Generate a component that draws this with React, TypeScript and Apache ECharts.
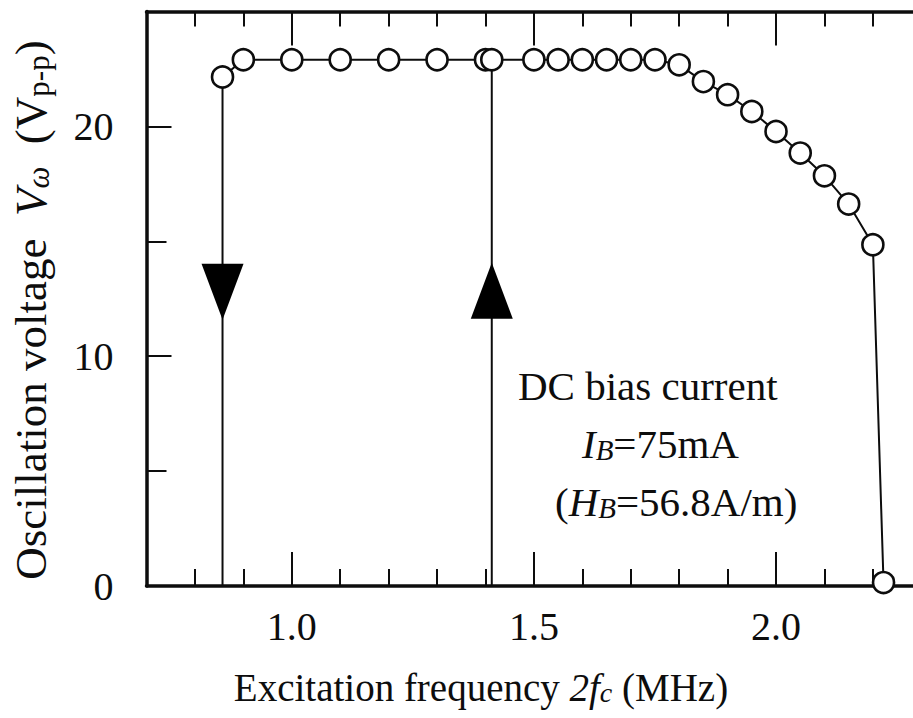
import React, { useEffect, useRef } from "react";
import * as echarts from "echarts";

// ---- data ----
const freqMHz = [0.857, 0.9, 1.0, 1.1, 1.2, 1.3, 1.4, 1.413, 1.5, 1.55, 1.6, 1.65, 1.7, 1.75, 1.8, 1.85, 1.9, 1.95, 2.0, 2.05, 2.1, 2.15, 2.2, 2.222];
const voltVpp = [22.15, 22.9, 22.9, 22.9, 22.9, 22.9, 22.9, 22.9, 22.9, 22.9, 22.9, 22.9, 22.9, 22.9, 22.68, 21.95, 21.38, 20.65, 19.78, 18.84, 17.85, 16.62, 14.85, 0.15];
const sweepDownX = [0.857, 0.857];
const sweepDownY = [22.15, 0];
const sweepUpX = [1.413, 1.413];
const sweepUpY = [0, 22.9];
const arrowX = [0.857, 1.413];
const arrowY = [12.8, 12.85];
const arrowRotate = [180, 0];
const xLabelValues = [1.0, 1.5, 2.0];
const xMinorTicks = [0.8, 0.9, 1.1, 1.2, 1.3, 1.4, 1.6, 1.7, 1.8, 1.9, 2.1, 2.2];
const yLabelValues = [0, 10, 20];
const yMajorTicks = [10, 20];
const yMinorTicks = [5, 15];

const FONT = "'Liberation Serif', 'Times New Roman', 'DejaVu Serif', serif";
const INK = "#0d0d0d";

export default function App() {
  const ref = useRef<HTMLDivElement>(null);

  useEffect(() => {
    if (!ref.current) return;
    const chart = echarts.init(ref.current, undefined, { renderer: "svg" });

    const xBase = { type: "value", min: 0.7, max: 2.3, gridIndex: 0, splitLine: { show: false } };
    const yBase = { type: "value", min: 0, max: 25, gridIndex: 0, splitLine: { show: false } };
    const lineAx = { show: true, lineStyle: { color: INK, width: 3.5 } };
    const noLine = { show: false };

    const option: any = {
      animation: false,
      backgroundColor: "#ffffff",
      grid: { left: 146.5, top: 11.5, right: 18.7, bottom: 132, containLabel: false },
      xAxis: [
        {
          ...xBase,
          position: "bottom",
          axisLine: lineAx,
          axisTick: { show: true, inside: true, length: 34, customValues: xLabelValues, lineStyle: { color: INK, width: 2 } },
          axisLabel: {
            show: true,
            customValues: xLabelValues,
            formatter: (v: number) => v.toFixed(1),
            fontFamily: FONT,
            fontSize: 40,
            color: INK,
            margin: 20,
          },
        },
        {
          ...xBase,
          position: "bottom",
          axisLine: noLine,
          axisTick: { show: true, inside: true, length: 17, customValues: xMinorTicks, lineStyle: { color: INK, width: 2 } },
          axisLabel: { show: false },
        },
        {
          ...xBase,
          position: "top",
          axisLine: lineAx,
          axisTick: { show: true, inside: true, length: 34, customValues: xLabelValues, lineStyle: { color: INK, width: 2 } },
          axisLabel: { show: false },
        },
        {
          ...xBase,
          position: "top",
          axisLine: noLine,
          axisTick: { show: true, inside: true, length: 15, customValues: xMinorTicks, lineStyle: { color: INK, width: 2 } },
          axisLabel: { show: false },
        },
      ],
      yAxis: [
        {
          ...yBase,
          position: "left",
          axisLine: lineAx,
          axisTick: { show: true, inside: true, length: 25, customValues: yMajorTicks, lineStyle: { color: INK, width: 2 } },
          axisLabel: {
            show: true,
            customValues: yLabelValues,
            fontFamily: FONT,
            fontSize: 40,
            color: INK,
            margin: 33,
          },
        },
        {
          ...yBase,
          position: "left",
          axisLine: noLine,
          axisTick: { show: true, inside: true, length: 20, customValues: yMinorTicks, lineStyle: { color: INK, width: 2 } },
          axisLabel: { show: false },
        },
      ],
      series: [
        {
          type: "line",
          xAxisIndex: 0,
          yAxisIndex: 0,
          data: sweepDownX.map((x, i) => [x, sweepDownY[i]]),
          symbol: "none",
          lineStyle: { color: INK, width: 2 },
          z: 2,
        },
        {
          type: "line",
          xAxisIndex: 0,
          yAxisIndex: 0,
          data: sweepUpX.map((x, i) => [x, sweepUpY[i]]),
          symbol: "none",
          lineStyle: { color: INK, width: 2 },
          z: 2,
        },
        {
          type: "line",
          xAxisIndex: 0,
          yAxisIndex: 0,
          data: freqMHz.map((f, i) => [f, voltVpp[i]]),
          symbol: "circle",
          symbolSize: 21,
          showAllSymbol: true,
          lineStyle: { color: INK, width: 2 },
          itemStyle: { color: "#ffffff", borderColor: INK, borderWidth: 2.6 },
          z: 3,
        },
        {
          type: "scatter",
          xAxisIndex: 0,
          yAxisIndex: 0,
          data: arrowX.map((x, i) => ({ value: [x, arrowY[i]], symbolRotate: arrowRotate[i] })),
          symbol: "triangle",
          symbolSize: [42, 56],
          itemStyle: { color: "#000000", opacity: 1 },
          z: 4,
        },
      ],
      graphic: [
        {
          type: "text",
          x: 31,
          y: 310,
          rotation: Math.PI / 2,
          style: {
            text: "{n|Oscillation voltage  }{i|V}{is|ω}{n|  (V}{s|p-p}{n|)}",
            align: "center",
            verticalAlign: "middle",
            fill: INK,
            rich: {
              n: { fontFamily: FONT, fontSize: 45, fill: INK },
              i: { fontFamily: FONT, fontSize: 45, fontStyle: "italic", fill: INK },
              is: { fontFamily: FONT, fontSize: 31, fontStyle: "italic", fill: INK, verticalAlign: "bottom", lineHeight: 37 },
              s: { fontFamily: FONT, fontSize: 31, fill: INK, verticalAlign: "bottom", lineHeight: 37 },
            },
          },
        },
        {
          type: "text",
          x: 481,
          y: 687,
          style: {
            text: "{n|Excitation frequency }{i|2f}{s|c}{n| (MHz)}",
            align: "center",
            verticalAlign: "middle",
            fill: INK,
            rich: {
              n: { fontFamily: FONT, fontSize: 39, fill: INK },
              i: { fontFamily: FONT, fontSize: 39, fontStyle: "italic", fill: INK },
              s: { fontFamily: FONT, fontSize: 28, fontStyle: "italic", fill: INK, verticalAlign: "bottom", lineHeight: 34 },
            },
          },
        },
        {
          type: "text",
          x: 518,
          y: 386,
          style: {
            text: "DC bias current",
            fontFamily: FONT,
            fontSize: 41,
            fill: INK,
            align: "left",
            verticalAlign: "middle",
          },
        },
        {
          type: "text",
          x: 582,
          y: 444,
          style: {
            text: "{i|I}{s|B}{n|=75mA}",
            align: "left",
            verticalAlign: "middle",
            fill: INK,
            rich: {
              n: { fontFamily: FONT, fontSize: 41, fill: INK },
              i: { fontFamily: FONT, fontSize: 41, fontStyle: "italic", fill: INK },
              s: { fontFamily: FONT, fontSize: 29, fontStyle: "italic", fill: INK, verticalAlign: "bottom", lineHeight: 36 },
            },
          },
        },
        {
          type: "text",
          x: 555,
          y: 502,
          style: {
            text: "{n|(}{i|H}{s|B}{n|=56.8A/m)}",
            align: "left",
            verticalAlign: "middle",
            fill: INK,
            rich: {
              n: { fontFamily: FONT, fontSize: 41, fill: INK },
              i: { fontFamily: FONT, fontSize: 41, fontStyle: "italic", fill: INK },
              s: { fontFamily: FONT, fontSize: 29, fontStyle: "italic", fill: INK, verticalAlign: "bottom", lineHeight: 36 },
            },
          },
        },
      ],
    };

    chart.setOption(option);
    return () => chart.dispose();
  }, []);

  return (
    <div
      style={{
        position: "fixed",
        left: 0,
        top: 0,
        width: 913,
        height: 718,
        overflow: "hidden",
        background: "#ffffff",
      }}
    >
      <div ref={ref} style={{ width: 940, height: 718 }} />
    </div>
  );
}
